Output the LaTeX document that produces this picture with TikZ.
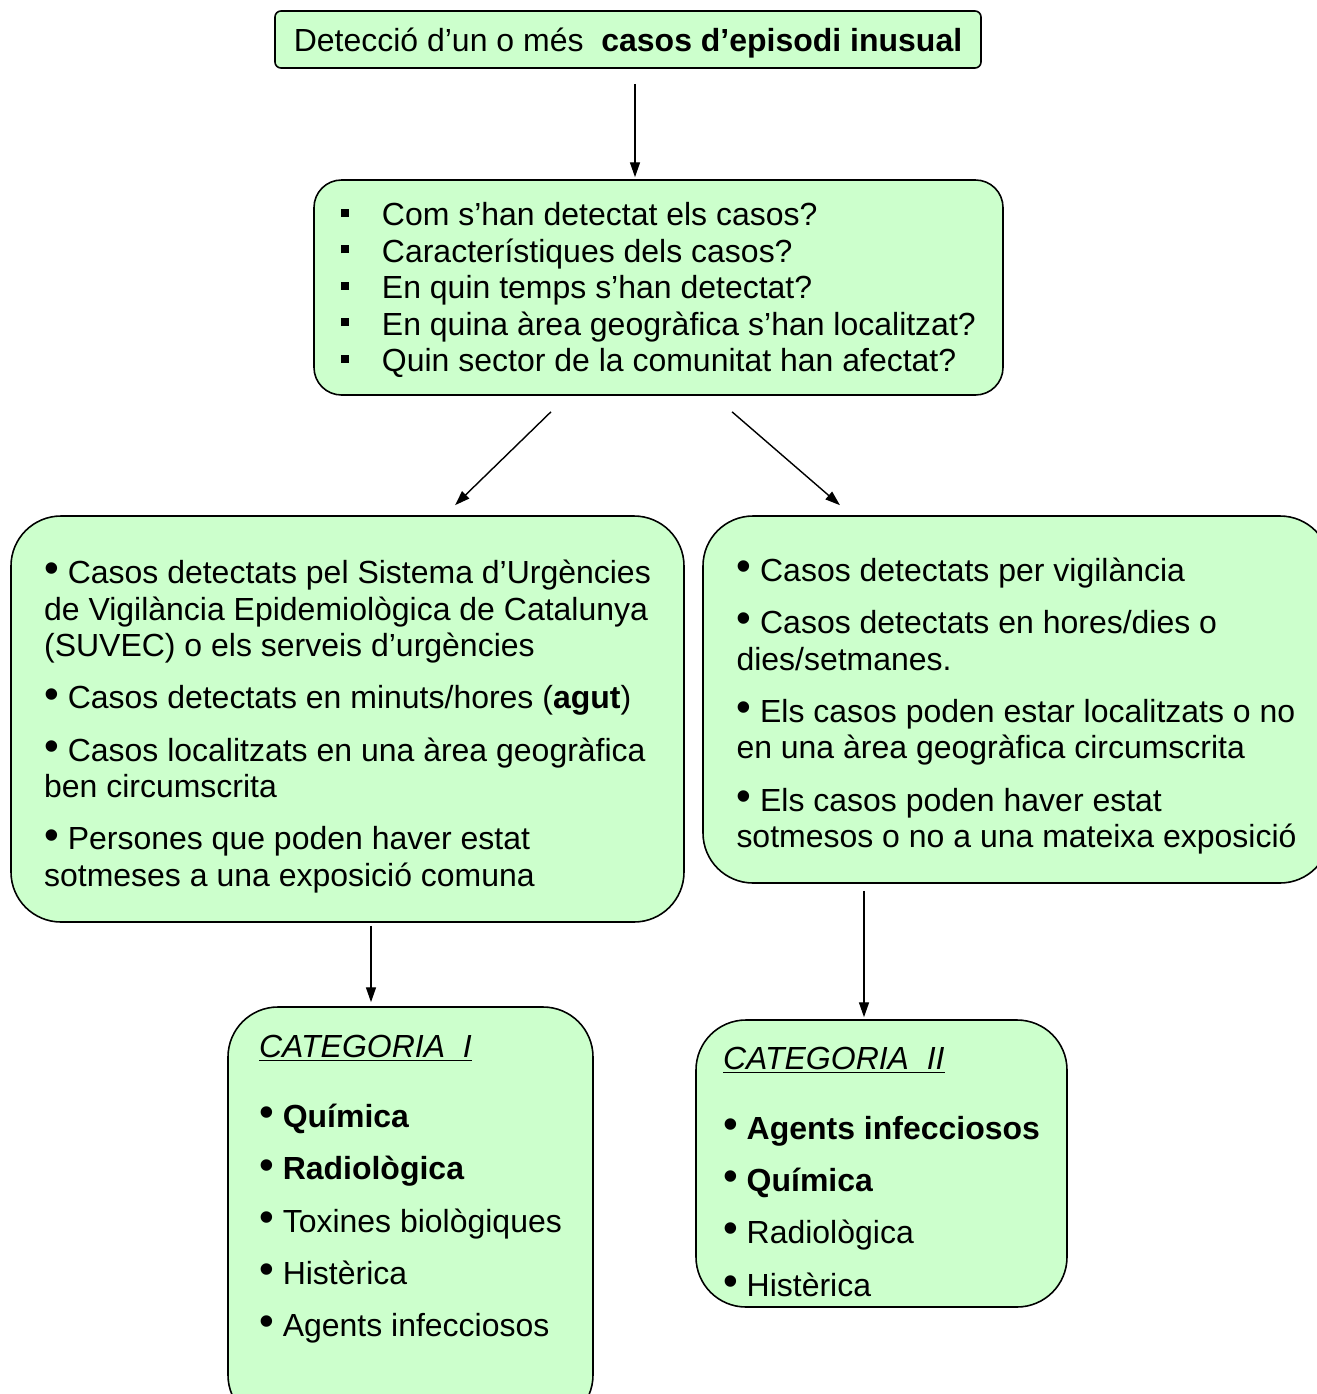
\documentclass[tikz,border=0pt]{standalone}
\usepackage{fontspec}
\setmainfont{Liberation Sans}
\usetikzlibrary{arrows.meta, calc, positioning}
\definecolor{boxgreen}{HTML}{CCFFCC}
\newcommand{\bul}{\raisebox{0.5pt}{\fontsize{24}{0}\selectfont •}\ }
\newcommand{\sqb}{\makebox[23.2pt][l]{\raisebox{5pt}{\rule{4.5pt}{4.5pt}}}}
\newcommand{\tstr}[1]{\rule{0pt}{#1}}% top strut
\newcommand{\bstr}[1]{\rule[-#1]{0pt}{#1}}% bottom strut

\begin{document}
\begin{tikzpicture}[
	font=\fontsize{18.2}{20.75}\selectfont,
	box/.style = {rectangle, draw, fill=boxgreen, line width=0.9pt, inner sep=0pt, align=left},
	topbox/.style = {box, rounded corners=0.12cm, minimum width=14.12cm, minimum height=1.14cm, align=center},
	qbox/.style = {% question box
		box, rounded corners=0.55cm, minimum width=13.78cm, minimum height=4.3cm},
	bigbox/.style = {box, rounded corners=1cm},
	arr/.style = {-{Triangle[length=8.5pt, width=5.7pt]}, line width=0.8pt}]

\useasboundingbox (0,0) rectangle (26.32,-27.88);

\node[topbox] (det) at (12.56,-0.79) {\tstr{17.8pt}Detecció d’un o més \ \textbf{casos d’episodi inusual}};

\node[qbox] (quest) at (13.17,-5.75) {%
	\tstr{16pt}\sqb Com s’han detectat els casos?\\
	\sqb Característiques dels casos?\\
	\sqb En quin temps s’han detectat?\\
	\sqb En quina àrea geogràfica s’han localitzat?\\
	\sqb Quin sector de la comunitat han afectat?};

\begin{scope}[every node/.style={bigbox}]
\node[minimum width=13.46cm, minimum height=8.12cm] (agut) at (6.95,-14.38) {%
	\tstr{22pt}\bul Casos detectats pel Sistema d’Urgències\\
	de Vigilància Epidemiològica de Catalunya\\
	(SUVEC) o els serveis d’urgències\\[9pt]
	\bul Casos detectats en minuts/hores (\textbf{agut})\\[9pt]
	\bul Casos localitzats en una àrea geogràfica\\
	ben circumscrita\\[9pt]
	\bul Persones que poden haver estat\\
	sotmeses a una exposició comuna};
\node[minimum width=12.54cm, minimum height=7.34cm] (vigil) at (20.33,-13.99) {%
	\tstr{20.7pt}\bul Casos detectats per vigilància\\[9pt]
	\bul Casos detectats en hores/dies o\\
	dies/setmanes.\\[9pt]
	\bul Els casos poden estar localitzats o no\\
	en una àrea geogràfica circumscrita\\[9pt]
	\bul Els casos poden haver estat\\
	sotmesos o no a una mateixa exposició};
\node[minimum width=7.3cm, minimum height=8.36cm] (cat1) at (8.21,-24.32) {%
	\underline{\textit{CATEGORIA \ I}}\\[19pt]
	\bul \textbf{Química}\\[9pt]
	\bul \textbf{Radiològica}\\[9pt]
	\bul Toxines biològiques\\[9pt]
	\bul Histèrica\\[9pt]
	\bul Agents infecciosos\bstr{34pt}};
\node[minimum width=7.42cm, minimum height=5.74cm] (cat2) at (17.63,-23.27) {%
	\tstr{22pt}\underline{\textit{CATEGORIA \ II}}\\[19pt]
	\bul \textbf{Agents infecciosos}\\[9pt]
	\bul \textbf{Química}\\[9pt]
	\bul Radiològica\\[9pt]
	\bul Histèrica};
\end{scope}

% arrows between boxes
\draw[arr, shorten <=0.3cm, shorten >=0.04cm] ([xshift=0.14cm]det.south) -- ([xshift=0.14cm]det.south |- quest.north);
\draw[arr] ([xshift=-2.15cm, yshift=-0.32cm]quest.south) -- ([xshift=2.15cm, yshift=0.2cm]agut.north);
\draw[arr] ([xshift=1.47cm, yshift=-0.32cm]quest.south) -- ([xshift=-3.53cm, yshift=0.2cm]vigil.north);
\draw[arr, shorten <=0.06cm, shorten >=0.08cm] ([xshift=0.47cm]agut.south) -- ([xshift=0.47cm]agut.south |- cat1.north);
\draw[arr, shorten <=0.14cm, shorten >=0.04cm] ([xshift=-3.05cm]vigil.south) -- ([xshift=-3.05cm]vigil.south |- cat2.north);

\end{tikzpicture}
\end{document}
